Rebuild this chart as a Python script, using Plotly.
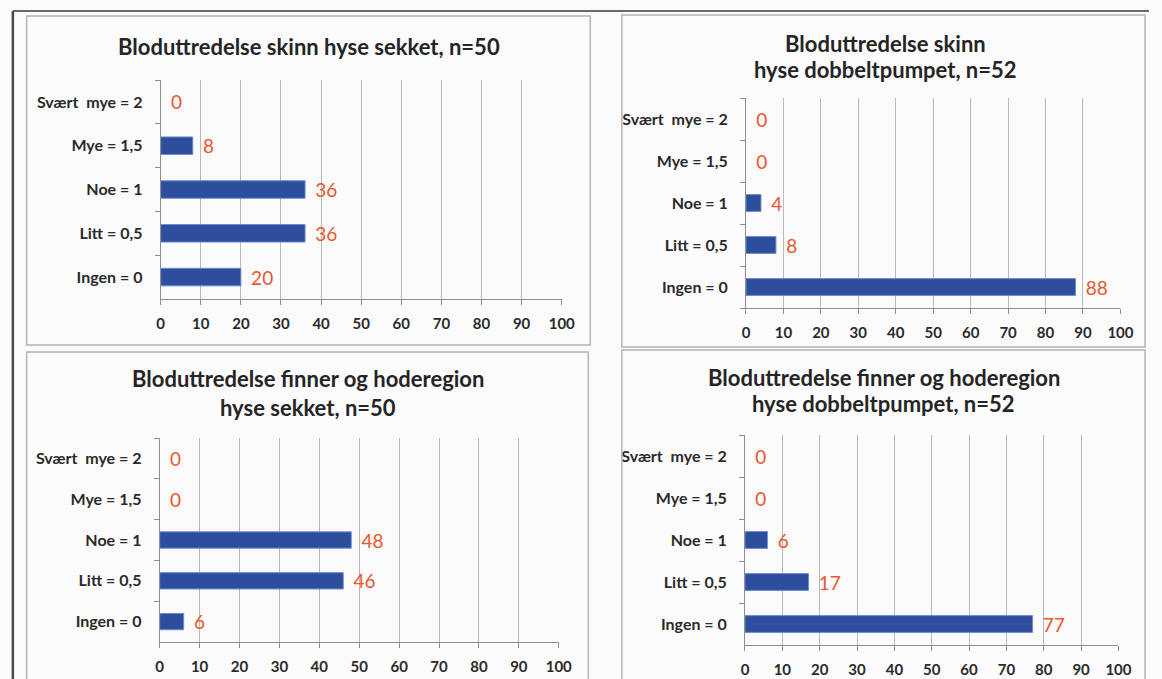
import plotly.graph_objects as go

W, H = 1162, 679

# Scoring categories (bottom to top) and share of fish (%) per category
categories = ["Ingen = 0", "Litt = 0,5", "Noe = 1", "Mye = 1,5", "Svært\u00a0 mye = 2"]
skinn_sekket = [20, 36, 36, 8, 0]
skinn_dobbelt = [88, 8, 4, 0, 0]
finner_sekket = [6, 46, 48, 0, 0]
finner_dobbelt = [77, 17, 6, 0, 0]

x_ticks = [0, 10, 20, 30, 40, 50, 60, 70, 80, 90, 100]

panel_titles = [
    ["Bloduttredelse skinn hyse sekket, n=50"],
    ["Bloduttredelse skinn", "hyse dobbeltpumpet, n=52"],
    ["Bloduttredelse finner og hoderegion", "hyse sekket, n=50"],
    ["Bloduttredelse finner og hoderegion", "hyse dobbeltpumpet, n=52"],
]
series = [skinn_sekket, skinn_dobbelt, finner_sekket, finner_dobbelt]

# plot-area rectangles in pixels: (left, right, top, bottom)
areas = [
    (159, 566, 80, 299),
    (753, 1133, 98, 308),
    (158, 563, 438, 642),
    (752, 1131, 435, 645),
]
# title line positions in pixels: (center x, [y per line])
title_pos = [
    (310, [47]),
    (895, [43, 70]),
    (309, [378, 407]),
    (893, [377, 403]),
]

FONT = "Lato"
BAR = "#2d4e9c"
BAR_EDGE = "#6d8ccc"
LABEL = "#e9572f"
GRID = "#b9b9bd"
AXIS = "#8e8e92"
BG = "#fbfbfc"

def px_x(v):
    return v / W

def px_y(v):
    return 1 - v / H

fig = go.Figure()
layout = dict(
    width=W, height=H,
    margin=dict(l=0, r=0, t=0, b=0),
    paper_bgcolor=BG, plot_bgcolor=BG,
    showlegend=False,
    bargap=0.6,
    annotations=[], shapes=[],
)

for i, (vals, (l, r, t, b)) in enumerate(zip(series, areas)):
    n = "" if i == 0 else str(i + 1)
    edge = [BAR_EDGE if v > 0 else "rgba(0,0,0,0)" for v in vals]
    fig.add_trace(go.Bar(
        x=vals, y=categories, orientation="h",
        xaxis="x" + n, yaxis="y" + n,
        marker=dict(color=BAR, line=dict(color=edge, width=1)),
        texttemplate="\u00a0\u2009%{x}", textposition="outside",
        textfont=dict(family=FONT, size=19, color=LABEL),
        constraintext="none", cliponaxis=False,
        hoverinfo="skip",
    ))
    layout["xaxis" + n] = dict(
        domain=[px_x(l), px_x(r)], anchor="y" + n,
        range=[0, 100], tickvals=x_ticks,
        showgrid=True, gridcolor=GRID, gridwidth=1,
        showline=True, linecolor=AXIS, linewidth=1,
        ticks="outside", ticklen=5, tickcolor=AXIS,
        ticklabelstandoff=6,
        tickfont=dict(family=FONT, size=15, color="#2a2a2a", weight="bold"),
        zeroline=False, fixedrange=True,
    )
    layout["yaxis" + n] = dict(
        domain=[px_y(b), px_y(t)], anchor="x" + n,
        type="category", categoryorder="array", categoryarray=categories,
        showline=True, linecolor=AXIS, linewidth=1,
        ticks="outside", ticklen=5, tickcolor=AXIS, tickson="boundaries",
        ticklabelstandoff=14,
        tickfont=dict(family=FONT, size=16, color="#2a2a2a", weight="bold"),
        showgrid=False, zeroline=False, fixedrange=True,
    )
    cx, ys = title_pos[i]
    for text, y in zip(panel_titles[i], ys):
        layout["annotations"].append(dict(
            text=text, x=px_x(cx), y=px_y(y), xref="paper", yref="paper",
            xanchor="center", yanchor="middle", showarrow=False,
            font=dict(family=FONT, size=22, color="#252525", weight="bold"),
        ))

# frames around each chart and the page edges
boxes = [(23, 595, 16, 345), (627, 1158, 15, 347), (23, 593, 352, 690), (627, 1158, 350, 690)]
for l, r, t, b in boxes:
    layout["shapes"].append(dict(
        type="rect", xref="paper", yref="paper",
        x0=px_x(l), x1=px_x(r), y0=px_y(b), y1=px_y(t),
        line=dict(color="#b4b4b8", width=1.5),
    ))
layout["shapes"].append(dict(
    type="line", xref="paper", yref="paper",
    x0=px_x(9), x1=px_x(1162), y0=px_y(11), y1=px_y(11),
    line=dict(color="#6a6a6e", width=2),
))
layout["shapes"].append(dict(
    type="line", xref="paper", yref="paper",
    x0=px_x(9), x1=px_x(9), y0=px_y(11), y1=px_y(690),
    line=dict(color="#4a4a4e", width=2.5),
))

fig.update_layout(**layout)
fig.write_html("out.html")
